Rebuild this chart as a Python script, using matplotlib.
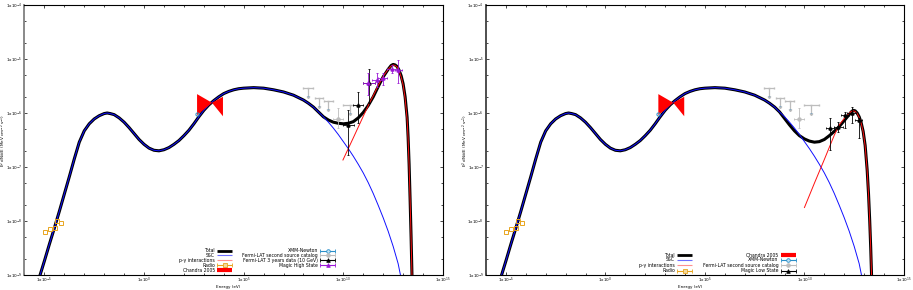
import matplotlib.pyplot as plt
import numpy as np
from matplotlib.ticker import FixedLocator, NullFormatter

# Valeurs : log10 E [eV], log10 E^2 dN/dE [MeV cm^-2 s^-1]

# partie commune du modele (synchrotron + debut SSC)
base_logE = [-5.30, -5.00, -4.75, -4.50, -4.25, -4.00, -3.75, -3.50, -3.25, -3.00,
             -2.75, -2.50, -2.25, -2.00, -1.85, -1.70, -1.50, -1.25, -1.00, -0.75,
             -0.50, -0.25, 0.00, 0.25, 0.50, 0.75, 1.00, 1.25, 1.50, 1.75,
             2.00, 2.25, 2.50, 2.75, 3.00, 3.25, 3.50, 3.75, 4.00, 4.25,
             4.50, 4.75, 5.00, 5.50, 6.00, 6.50, 7.00, 7.50, 8.00, 8.25,
             8.50, 8.75]
base_logF = [-9.10, -8.74, -8.43, -8.13, -7.82, -7.50, -7.18, -6.85, -6.54, -6.33,
             -6.20, -6.11, -6.05, -6.01, -6.00, -6.01, -6.03, -6.09, -6.17, -6.27,
             -6.38, -6.49, -6.58, -6.65, -6.69, -6.70, -6.68, -6.64, -6.58, -6.51,
             -6.42, -6.32, -6.20, -6.07, -5.95, -5.85, -5.77, -5.70, -5.64, -5.60,
             -5.57, -5.55, -5.54, -5.53, -5.54, -5.57, -5.61, -5.67, -5.76, -5.82,
             -5.89, -5.98]

# fin de la composante SSC
ssc_logE = [9.00, 9.25, 9.50, 9.75, 10.00, 10.25, 10.50, 10.75, 11.00, 11.25,
            11.50, 11.75, 12.00, 12.25, 12.50, 12.75, 12.92]
ssc_logF = [-6.07, -6.17, -6.28, -6.40, -6.53, -6.66, -6.80, -6.95, -7.11, -7.29,
            -7.49, -7.71, -7.94, -8.19, -8.47, -8.79, -9.10]

# etat haut : total et p-gamma
tot_hi_logE = [9.00, 9.25, 9.50, 9.75, 10.00, 10.25, 10.50, 10.75, 11.00, 11.25,
               11.50, 11.75, 12.00, 12.25, 12.40, 12.50, 12.60, 12.70, 12.80, 12.90,
               13.00, 13.10, 13.20, 13.25, 13.30, 13.35, 13.40, 13.45]
tot_hi_logF = [-6.07, -6.13, -6.17, -6.19, -6.20, -6.19, -6.16, -6.09, -5.99, -5.86,
               -5.70, -5.51, -5.33, -5.19, -5.12, -5.10, -5.11, -5.14, -5.21, -5.31,
               -5.46, -5.70, -6.08, -6.45, -6.95, -7.60, -8.30, -9.10]
pg_hi_logE = [9.98, 10.50, 11.00, 11.33, 11.50, 11.75, 12.00, 12.25, 12.40, 12.50,
              12.60, 12.70, 12.80, 12.90, 13.00, 13.10, 13.20, 13.25, 13.30, 13.35,
              13.40, 13.45]
pg_hi_logF = [-6.87, -6.46, -6.06, -5.80, -5.68, -5.49, -5.32, -5.19, -5.13, -5.11,
              -5.12, -5.15, -5.22, -5.33, -5.48, -5.73, -6.12, -6.48, -6.98, -7.62,
              -8.33, -9.10]

# etat bas : total et p-gamma
tot_lo_logE = [9.00, 9.25, 9.50, 9.75, 10.00, 10.25, 10.50, 10.75, 11.00, 11.25,
               11.50, 11.75, 12.00, 12.20, 12.35, 12.45, 12.55, 12.65, 12.75, 12.85,
               12.95, 13.05, 13.15, 13.22, 13.28, 13.33, 13.38]
tot_lo_logF = [-6.10, -6.22, -6.33, -6.42, -6.48, -6.52, -6.54, -6.53, -6.49, -6.42,
               -6.34, -6.25, -6.14, -6.05, -5.98, -5.95, -5.96, -6.00, -6.07, -6.18,
               -6.34, -6.60, -7.05, -7.50, -8.00, -8.50, -9.10]
pg_lo_logE = [10.00, 10.50, 11.00, 11.50, 11.75, 12.00, 12.20, 12.35, 12.45, 12.55,
              12.65, 12.75, 12.85, 12.95, 13.05, 13.15, 13.22, 13.28, 13.33, 13.38]
pg_lo_logF = [-7.75, -7.30, -6.86, -6.41, -6.22, -6.10, -6.02, -5.97, -5.96, -5.97,
              -6.01, -6.08, -6.19, -6.35, -6.61, -7.06, -7.51, -8.01, -8.51, -9.10]

# Radio
radio_logE = [-4.97, -4.72, -4.47, -4.37, -4.17]
radio_logF = [-8.20, -8.15, -8.13, -8.00, -8.04]

# Chandra 2005 (papillon)
chandra_logE = [2.66, 3.41, 3.96]
chandra_up = [-5.65, -5.81, -5.70]
chandra_dn = [-6.04, -5.81, -6.06]

# XMM-Newton
xmm_logE = [2.66]
xmm_logF = [-6.02]

# Fermi-LAT 2e catalogue : limites superieures + un point
ul_logE = [8.22, 8.78, 9.25, 10.35]
ul_logElo = [7.97, 8.58, 9.03, 9.98]
ul_logEhi = [8.48, 8.98, 9.48, 10.75]
ul_logF = [-5.54, -5.72, -5.78, -5.85]
fgl_logE = [9.73]
fgl_logElo = [9.48]
fgl_logEhi = [9.98]
fgl_logF = [-6.11]
fgl_logFlo = [-6.28]
fgl_logFhi = [-5.91]

# Fermi-LAT 3 ans (10 GeV)
f3_logE = [10.25, 10.75, 11.30]
f3_logElo = [9.98, 10.48, 10.98]
f3_logEhi = [10.53, 10.98, 11.59]
f3_logF = [-6.22, -5.85, -5.45]
f3_logFlo = [-6.78, -6.19, -5.81]
f3_logFhi = [-5.94, -5.61, -5.19]

# Magic etat haut
mh_logE = [11.25, 11.67, 12.01, 12.42, 12.76]
mh_logElo = [11.00, 11.42, 11.76, 12.17, 12.59]
mh_logEhi = [11.59, 11.92, 12.17, 12.67, 12.93]
mh_logF = [-5.45, -5.39, -5.36, -5.19, -5.20]
mh_logFlo = [-5.67, -5.51, -5.48, -5.26, -5.45]
mh_logFhi = [-5.26, -5.26, -5.26, -5.11, -5.02]

# Magic etat bas
ml_logE = [11.26, 11.68, 12.06, 12.40, 12.73]
ml_logElo = [11.06, 11.51, 11.85, 12.16, 12.56]
ml_logEhi = [11.51, 11.93, 12.26, 12.61, 12.90]
ml_logF = [-6.28, -6.25, -6.04, -6.00, -6.13]
ml_logFlo = [-6.69, -6.35, -6.28, -6.19, -6.46]
ml_logFhi = [-6.09, -6.17, -5.98, -5.89, -6.09]

FS = 3.3
TFS = 3.0
C_RADIO = '#e8a51e'
C_XMM = '#2c8fc8'
C_FGL = '#bdbdbd'
C_MAGIC = '#9a17d6'
YLAB = r'E$^2$ dN/dE (MeV cm$^{-2}$ s$^{-1}$)'


def p(a):
    return 10.0 ** np.asarray(a, dtype=float)


def err(v, lo, hi):
    v, lo, hi = p(v), p(lo), p(hi)
    return [v - lo, hi - v]


def points(ax, e, elo, ehi, f, flo, fhi, color, marker, ms=2.2):
    ax.errorbar(p(e), p(f), xerr=err(e, elo, ehi), yerr=err(f, flo, fhi),
                fmt=marker, color=color, ms=ms, lw=0.6, capsize=0.8, capthick=0.6,
                mfc=color, mec=color, zorder=6)


def key(ax, x, y, label, color, lw=0.8, marker=None, mfc=None, caps=False):
    ax.text(x, y, label, transform=ax.transAxes, ha='right', va='center', fontsize=FS)
    ax.plot([x + 0.006, x + 0.042], [y, y], transform=ax.transAxes, color=color,
            lw=lw, solid_capstyle='butt', clip_on=False)
    if caps:
        ax.plot([x + 0.006, x + 0.042], [y, y], transform=ax.transAxes, ls='none',
                marker='|', ms=2.5, mew=0.6, color=color, clip_on=False)
    if marker:
        ax.plot([x + 0.024], [y], transform=ax.transAxes, marker=marker, ms=2.6,
                mew=0.6, color=color, mfc=mfc if mfc else color, clip_on=False)


def setup(ax, spine_col):
    ax.set_xscale('log')
    ax.set_yscale('log')
    ax.set_xlim(1e-6, 1e15)
    ax.set_ylim(1e-9, 1e-4)
    ax.xaxis.set_major_locator(FixedLocator(10.0 ** np.arange(-5, 16, 5)))
    ax.xaxis.set_minor_locator(FixedLocator(10.0 ** np.arange(-6, 16)))
    ax.yaxis.set_major_locator(FixedLocator(10.0 ** np.arange(-9, -3)))
    ymin = [m * 10.0 ** k for k in range(-9, -4) for m in (2, 5)]
    ax.yaxis.set_minor_locator(FixedLocator(ymin))
    ax.xaxis.set_minor_formatter(NullFormatter())
    ax.yaxis.set_minor_formatter(NullFormatter())
    ax.set_xticklabels([r'1x10$^{%d}$' % k for k in range(-5, 16, 5)])
    ax.set_yticklabels([r'1x10$^{%d}$' % k for k in range(-9, -3)])
    ax.tick_params(which='both', direction='in', top=True, right=True,
                   labelsize=TFS, width=0.5)
    ax.tick_params(axis='x', pad=0.6)
    ax.tick_params(axis='y', pad=1.5)
    ax.tick_params(which='major', length=2.5)
    ax.tick_params(which='minor', length=1.5)
    for s in ax.spines.values():
        s.set_linewidth(0.8)
    ax.spines['left'].set_color(spine_col)
    ax.spines['left'].set_linewidth(1.3)


def common(ax, tot_e, tot_f, pg_e, pg_f):
    ax.plot(p(base_logE + tot_e), p(base_logF + tot_f), color='black', lw=2.2, zorder=2)
    ax.plot(p(base_logE + ssc_logE), p(base_logF + ssc_logF), color='#1010ff', lw=0.7, zorder=3)
    ax.plot(p(pg_e), p(pg_f), color='#ff1010', lw=0.7, zorder=3)
    # Radio
    ax.plot(p(radio_logE), p(radio_logF), ls='none', marker='s', ms=3.0, mfc='none',
            mec=C_RADIO, mew=0.7, zorder=5)
    # Chandra
    ce = p(chandra_logE)
    ax.fill(list(ce) + list(ce[::-1]),
            list(p(chandra_up)) + list(p(chandra_dn)[::-1]),
            color='#ff0000', lw=0, zorder=4)
    # XMM
    ax.plot(p(xmm_logE), p(xmm_logF), ls='none', marker='o', ms=2.3, mfc='none',
            mec=C_XMM, mew=0.7, zorder=6)
    # Fermi 2FGL
    ul_f = p(ul_logF)
    ax.errorbar(p(ul_logE), ul_f, xerr=err(ul_logE, ul_logElo, ul_logEhi),
                yerr=ul_f * (1 - 10 ** -0.15), uplims=True, fmt='none',
                ecolor=C_FGL, elinewidth=0.9, capsize=1.0, zorder=5)
    points(ax, fgl_logE, fgl_logElo, fgl_logEhi, fgl_logF, fgl_logFlo, fgl_logFhi,
           C_FGL, 'o', ms=2.2)


fig = plt.figure(figsize=(9.13, 2.90), dpi=100)
ax1 = fig.add_axes([0.0268, 0.0517, 0.4584, 0.931])
ax2 = fig.add_axes([0.5323, 0.0517, 0.4578, 0.931])

# panneau gauche : etat haut
common(ax1, tot_hi_logE, tot_hi_logF, pg_hi_logE, pg_hi_logF)
points(ax1, f3_logE, f3_logElo, f3_logEhi, f3_logF, f3_logFlo, f3_logFhi, 'black', '^')
points(ax1, mh_logE, mh_logElo, mh_logEhi, mh_logF, mh_logFlo, mh_logFhi, C_MAGIC, '^')
setup(ax1, '#808080')

c1, c2 = 0.455, 0.701
rows = [0.090, 0.073, 0.054, 0.037, 0.0185]
key(ax1, c1, rows[0], 'Total', 'black', lw=2.0)
key(ax1, c1, rows[1], 'SSC', '#6f6fff')
key(ax1, c1, rows[2], 'p-\u03b3 interactions', '#ff9090')
key(ax1, c1, rows[3], 'Radio', C_RADIO, marker='s', mfc='#f4d79a', caps=True)
key(ax1, c1, rows[4], 'Chandra 2005', '#ff0000', lw=3.0)
key(ax1, c2, rows[0], 'XMM-Newton', C_XMM, marker='o', mfc='#bfe3f5', caps=True)
key(ax1, c2, rows[1], 'Fermi-LAT second source catalog', C_FGL, marker='o', caps=True)
key(ax1, c2, rows[2], 'Fermi-LAT 3 years data (10 GeV)', 'black', marker='^', caps=True)
key(ax1, c2, rows[3], 'Magic High State', C_MAGIC, marker='^', caps=True)

# panneau droit : etat bas
common(ax2, tot_lo_logE, tot_lo_logF, pg_lo_logE, pg_lo_logF)
points(ax2, ml_logE, ml_logElo, ml_logEhi, ml_logF, ml_logFlo, ml_logFhi, 'black', '^')
setup(ax2, '#404040')

d1, d2 = 0.452, 0.699
rows2 = [0.074, 0.056, 0.036, 0.016]
key(ax2, d1, rows2[0], 'Total', 'black', lw=2.0)
key(ax2, d1, rows2[1], 'SSC', '#6f6fff')
key(ax2, d1, rows2[2], 'p-\u03b3 interactions', '#ff9090')
key(ax2, d1, rows2[3], 'Radio', C_RADIO, marker='s', mfc='#f4d79a', caps=True)
key(ax2, d2, rows2[0], 'Chandra 2005', '#ff0000', lw=3.0)
key(ax2, d2, rows2[1], 'XMM-Newton', C_XMM, marker='o', mfc='#bfe3f5', caps=True)
key(ax2, d2, rows2[2], 'Fermi-LAT second source catalog', C_FGL, marker='o', caps=True)
key(ax2, d2, rows2[3], 'Magic Low State', 'black', marker='^', caps=True)

# titres d'axes
W, H = 913.0, 290.0
fig.text(3.8 / W, 1 - 140 / H, YLAB, rotation=90, ha='center', va='center', fontsize=TFS)
fig.text(465 / W, 1 - 140 / H, YLAB, rotation=90, ha='center', va='center', fontsize=TFS)
fig.text(228 / W, 1 - 286.8 / H, 'Energy (eV)', ha='center', va='center', fontsize=TFS)
fig.text(690 / W, 1 - 286.8 / H, 'Energy (eV)', ha='center', va='center', fontsize=TFS)

fig.savefig('out.png', dpi=100)
